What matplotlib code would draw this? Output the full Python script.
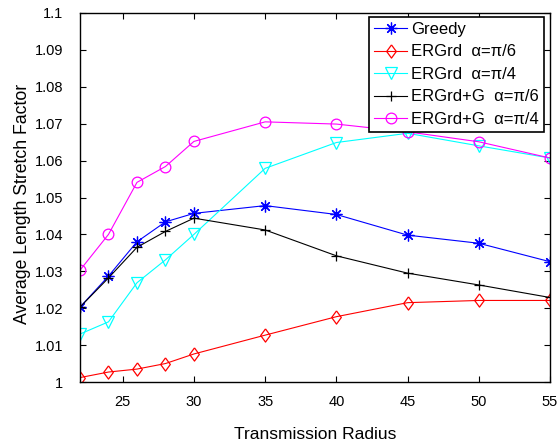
import matplotlib
matplotlib.use("Agg")
import matplotlib.pyplot as plt

plt.rcParams['font.family'] = ['Liberation Sans', 'DejaVu Sans']

radius = [22, 24, 26, 28, 30, 35, 40, 45, 50, 55]
greedy = [1.0203, 1.0287, 1.0380, 1.0434, 1.0457, 1.0478, 1.0454, 1.0398, 1.0376, 1.0326]
ergrd_pi6 = [1.0012, 1.0027, 1.0035, 1.0050, 1.0076, 1.0127, 1.0177, 1.0215, 1.0221, 1.0221]
ergrd_pi4 = [1.0130, 1.0163, 1.0269, 1.0331, 1.0400, 1.0579, 1.0649, 1.0674, 1.0640, 1.0607]
ergrdg_pi6 = [1.0203, 1.0282, 1.0365, 1.0408, 1.0444, 1.0412, 1.0342, 1.0295, 1.0263, 1.0229]
ergrdg_pi4 = [1.0303, 1.0400, 1.0541, 1.0584, 1.0652, 1.0705, 1.0699, 1.0678, 1.0651, 1.0607]

labels = ["Greedy", "ERGrd  α=π/6", "ERGrd  α=π/4", "ERGrd+G  α=π/6", "ERGrd+G  α=π/4"]

fig = plt.figure(figsize=(5.59, 4.42), dpi=100)
ax = fig.add_axes([80 / 559, 1 - 382 / 442, 470 / 559, 369 / 442])

diamond = [(0, 1), (0.73, 0), (0, -1), (-0.73, 0), (0, 1)]
lw = 0.8
ax.plot(radius, greedy, color='blue', marker=(8, 2, 0), markersize=8.5, mew=0.9, lw=lw, label=labels[0])
ax.plot(radius, ergrd_pi6, color='red', marker=diamond, markersize=9.5, mfc='none', mew=0.9, lw=lw, label=labels[1])
ax.plot(radius, ergrd_pi4, color='cyan', marker='v', markersize=8.4, mfc='none', mew=0.9, lw=lw, label=labels[2])
ax.plot(radius, ergrdg_pi6, color='black', marker='+', markersize=7.5, mew=0.9, lw=lw, label=labels[3])
ax.plot(radius, ergrdg_pi4, color='magenta', marker='o', markersize=7.7, mfc='none', mew=0.9, lw=lw, label=labels[4])

ax.set_xlim(22, 55)
ax.set_ylim(1.0, 1.1)
ax.set_xticks([25, 30, 35, 40, 45, 50, 55])
yt = [1.0 + 0.01 * i for i in range(11)]
ax.set_yticks(yt)
ax.set_yticklabels(["1", "1.01", "1.02", "1.03", "1.04", "1.05", "1.06", "1.07", "1.08", "1.09", "1.1"])
ax.tick_params(direction='in', top=True, right=True, labelsize=10.5, length=4, width=0.8)
ax.tick_params(axis='x', pad=9)
ax.tick_params(axis='y', pad=12)
for s in ax.spines.values():
    s.set_linewidth(1.0)

ax.set_xlabel("Transmission Radius", fontsize=12.5, labelpad=13)
ax.set_ylabel("Average Length Stretch Factor", fontsize=12.7)
ax.yaxis.set_label_coords(-0.104, 0.482)

leg = ax.legend(loc='upper right', fontsize=12, fancybox=False, framealpha=1,
                edgecolor='black', bbox_to_anchor=(0.9875, 0.9892), borderaxespad=0.0,
                handlelength=2.0, labelspacing=0.45, borderpad=0.3, handletextpad=0.25)
leg.get_frame().set_linewidth(1.2)

fig.savefig("out.png", dpi=100)
